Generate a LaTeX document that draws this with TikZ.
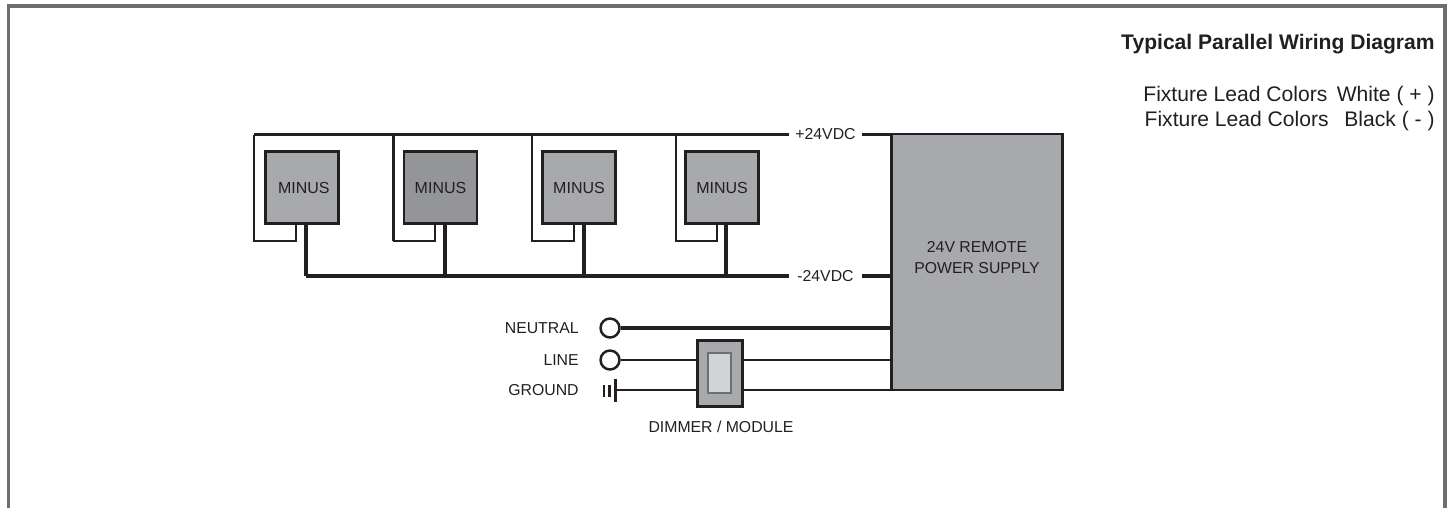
\documentclass[tikz,border=0pt]{standalone}
\usepackage{fontspec}
\setmainfont{Liberation Sans}
\definecolor{boxgray}{HTML}{A7A9AC}
\definecolor{darkgray}{HTML}{939598}
\definecolor{lightbox}{HTML}{D1D3D4}
\definecolor{framegray}{HTML}{6D6E71}
\definecolor{ink}{HTML}{231F20}
\tikzset{
  wire/.style={line width=1.8pt,ink},
  thinwire/.style={line width=1.3pt,ink},
  fixture/.style={draw=ink,line width=1.5pt,fill=boxgray,text=ink,minimum width=1.46cm,minimum height=1.44cm,inner sep=0pt,font=\fontsize{9.1}{10}\selectfont},
  terminal/.style={circle,draw=ink,line width=1.4pt,fill=white,minimum size=0.38cm,inner sep=0pt},
  smalllabel/.style={text=ink,inner sep=0pt,font=\fontsize{9}{11}\selectfont},
  notelabel/.style={text=ink,inner sep=0pt,anchor=east,font=\fontsize{12}{14}\selectfont}
}
\begin{document}
\begin{tikzpicture}[x=0.02cm,y=-0.02cm]
  \useasboundingbox (0,0) rectangle (1450,508);
  % Outer frame, open at the bottom
  \draw[framegray,line width=1.8pt] (8.5,508) -- (8.5,6) -- (1445,6) -- (1445,508);

  % Notes top right
  \node[notelabel,font=\fontsize{12}{14}\selectfont\bfseries] (title) at (1435,44) {Typical Parallel Wiring Diagram};
  \node[notelabel] (noteplus) at (1435,96) {Fixture Lead Colors\hspace{0.45em}White ( + )};
  \node[notelabel] (noteminus) at (1435,121) {Fixture Lead Colors\hspace{0.75em}Black ( - )};

  % Power supply
  \node[fixture,minimum width=3.42cm,minimum height=5.12cm] (psu) at (977,262) {};
  \node[smalllabel,align=center] (psulabel) at (977,257.5) {24V REMOTE\\[1pt]POWER SUPPLY};

  % Fixtures
  \node[fixture] (fixa) at (302,187.5) {\hspace{2pt}MINUS};
  \node[fixture,fill=darkgray] (fixb) at (440.5,187.5) {MINUS};
  \node[fixture] (fixc) at (579,187.5) {MINUS};
  \node[fixture] (fixd) at (722,187.5) {MINUS};

  % Supply labels
  \node[smalllabel,minimum width=1.46cm] (plusdc) at (825.5,134) {+24VDC};
  \node[smalllabel,minimum width=1.46cm] (minusdc) at (825.5,276) {-24VDC};

  % Bus corners and taps
  \coordinate (plusstart) at (254,134.5);
  \coordinate (tapb) at (393.3,134.5);
  \coordinate (tapc) at (532,134.5);
  \coordinate (tapd) at (675.7,134.5);
  \coordinate (minusstart) at (306,276);
  \coordinate (negb) at (445,276);
  \coordinate (negc) at (584,276);
  \coordinate (negd) at (726,276);

  % Plus bus
  \draw[wire] (plusstart) -- (tapb) -- (tapc) -- (tapd) -- (plusdc.west |- plusstart);
  \draw[wire] (plusdc.east |- plusstart) -- (psu.west |- plusstart);
  % Minus bus
  \draw[wire] (minusstart) -- (negb) -- (negc) -- (negd) -- (minusdc.west);
  \draw[wire] (minusdc.east) -- (psu.west |- minusdc);

  % Plus leads
  \coordinate (retb) at (393.3,241);
  \draw[thinwire] (plusstart) -- (254,241) -- (296,241) -- (296,224.5);
  \draw[wire] (tapb) -- (retb);
  \draw[thinwire] (retb) -- (435,241) -- (435,224.5);
  \draw[thinwire] (tapc) -- (532,241) -- (574,241) -- (574,224.5);
  \draw[thinwire] (tapd) -- (675.7,241) -- (717,241) -- (717,224.5);

  % Minus leads
  \draw[wire] (minusstart) -- (306,224.5);
  \draw[wire] (negb) -- (445,224.5);
  \draw[wire] (negc) -- (584,224.5);
  \draw[wire] (negd) -- (726,224.5);

  % Mains labels
  \node[smalllabel,anchor=east] (neutral) at (579,328) {NEUTRAL};
  \node[smalllabel,anchor=east] (line) at (579,360) {LINE};
  \node[smalllabel,anchor=east] (ground) at (579,390) {GROUND};

  % Terminals and ground symbol
  \node[terminal] (termn) at (610,328) {};
  \node[terminal] (terml) at (610,360) {};
  \coordinate (groundbar) at (615.3,390);
  \draw[ink,line width=1.4pt] (604,385) -- (604,396.5);
  \draw[ink,line width=1.4pt] (609.3,385) -- (609.3,396.5);
  \draw[ink,line width=1.8pt] (groundbar) ++(0,-11) -- ++(0,23);

  % Dimmer
  \node[fixture,minimum width=0.91cm,minimum height=1.33cm] (dimmer) at (720,373.5) {};
  \node[draw=framegray,line width=0.7pt,fill=lightbox,minimum width=0.46cm,minimum height=0.8cm,inner sep=0pt] (rocker) at (719.5,373) {};
  \node[smalllabel] (dimmerlabel) at (721,427) {DIMMER / MODULE};

  % Mains wires
  \draw[wire] (termn) -- (psu.west |- termn);
  \draw[thinwire] (terml) -- (dimmer.west |- terml);
  \draw[thinwire] (dimmer.east |- terml) -- (psu.west |- terml);
  \draw[thinwire] (groundbar) -- (dimmer.west |- groundbar);
  \draw[thinwire] (dimmer.east |- groundbar) -- (psu.west |- groundbar);
\end{tikzpicture}
\end{document}
